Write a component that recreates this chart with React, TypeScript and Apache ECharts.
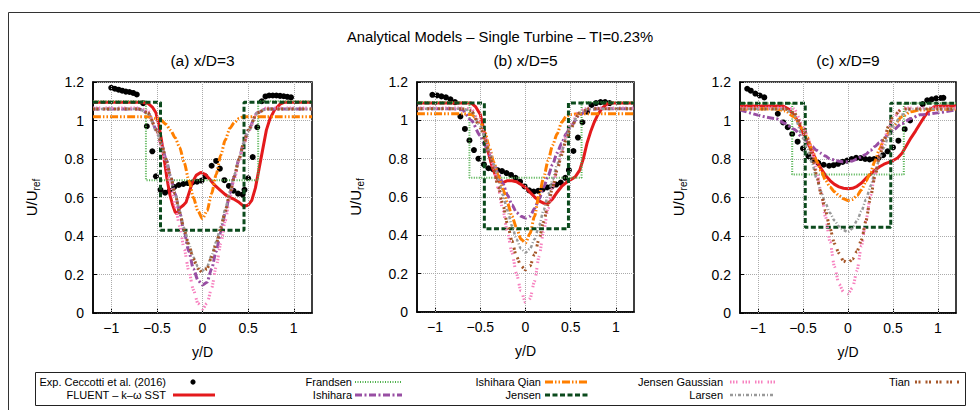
import React, { useEffect, useRef } from 'react';
import * as echarts from 'echarts';

const FONT = "'Liberation Sans', Arial, Helvetica, sans-serif";

// common y/D abscissae for the smooth analytical model curves
const MX = [-1.2, -0.8, -0.7, -0.6, -0.5, -0.45, -0.4, -0.35, -0.3, -0.25, -0.2, -0.15, -0.1, -0.05, 0, 0.05, 0.1, 0.15, 0.2, 0.25, 0.3, 0.35, 0.4, 0.45, 0.5, 0.6, 0.7, 0.8, 1.2];
const X_TICKS = [-1, -0.5, 0, 0.5, 1];

// ---------- (a) x/D = 3 ----------
const expA = [[-1.0, 1.17], [-0.96, 1.165], [-0.92, 1.16], [-0.88, 1.155], [-0.84, 1.15], [-0.8, 1.148], [-0.76, 1.143], [-0.72, 1.135], [-0.65, 1.09], [-0.61, 0.97], [-0.55, 0.84], [-0.51, 0.71], [-0.46, 0.64], [-0.41, 0.625], [-0.36, 0.635], [-0.31, 0.655], [-0.26, 0.665], [-0.21, 0.67], [-0.16, 0.675], [-0.11, 0.678], [-0.06, 0.682], [-0.01, 0.688], [0.03, 0.71], [0.1, 0.765], [0.15, 0.79], [0.19, 0.75], [0.24, 0.69], [0.29, 0.66], [0.34, 0.635], [0.39, 0.62], [0.44, 0.615], [0.46, 0.64], [0.5, 0.7], [0.55, 0.81], [0.6, 0.965], [0.65, 1.1], [0.69, 1.125], [0.73, 1.13], [0.77, 1.13], [0.81, 1.13], [0.85, 1.128], [0.89, 1.126], [0.93, 1.123], [0.97, 1.12]];
const fluentA = [[-1.2, 1.095], [-0.68, 1.095], [-0.6, 1.09], [-0.55, 1.07], [-0.51, 1.04], [-0.48, 0.98], [-0.45, 0.9], [-0.42, 0.8], [-0.39, 0.7], [-0.36, 0.62], [-0.33, 0.565], [-0.3, 0.525], [-0.28, 0.515], [-0.25, 0.545], [-0.21, 0.56], [-0.18, 0.575], [-0.15, 0.62], [-0.11, 0.68], [-0.07, 0.715], [-0.02, 0.73], [0.03, 0.72], [0.08, 0.695], [0.13, 0.665], [0.19, 0.64], [0.25, 0.615], [0.3, 0.6], [0.35, 0.59], [0.4, 0.575], [0.45, 0.555], [0.5, 0.56], [0.54, 0.585], [0.58, 0.65], [0.62, 0.75], [0.66, 0.85], [0.7, 0.95], [0.74, 1.01], [0.79, 1.055], [0.85, 1.085], [0.9, 1.095], [1.2, 1.095]];
const frandsenA = [[-1.2, 1.1], [-0.62, 1.1], [-0.62, 0.69], [0.61, 0.69], [0.61, 1.1], [1.2, 1.1]];
const jensenA = [[-1.2, 1.095], [-0.46, 1.095], [-0.46, 0.43], [0.455, 0.43], [0.455, 1.095], [1.2, 1.095]];
const ishiharaA = [1.06, 1.06, 1.06, 1.04, 0.95, 0.88, 0.8, 0.71, 0.62, 0.52, 0.42, 0.32, 0.23, 0.17, 0.145, 0.16, 0.23, 0.32, 0.42, 0.52, 0.62, 0.71, 0.8, 0.88, 0.95, 1.04, 1.06, 1.06, 1.06];
const qianA = [1.02, 1.02, 1.02, 1.02, 1.01, 1.0, 0.98, 0.95, 0.91, 0.86, 0.78, 0.69, 0.6, 0.53, 0.49, 0.53, 0.62, 0.72, 0.82, 0.9, 0.96, 0.99, 1.01, 1.02, 1.02, 1.02, 1.02, 1.02, 1.02];
const gaussA = [1.065, 1.065, 1.065, 1.05, 0.94, 0.86, 0.77, 0.67, 0.56, 0.45, 0.33, 0.22, 0.12, 0.05, 0.02, 0.05, 0.13, 0.24, 0.36, 0.48, 0.6, 0.7, 0.79, 0.87, 0.94, 1.04, 1.065, 1.065, 1.065];
const larsenA = [1.06, 1.06, 1.06, 1.04, 0.94, 0.87, 0.79, 0.71, 0.62, 0.53, 0.44, 0.36, 0.29, 0.24, 0.22, 0.24, 0.3, 0.37, 0.45, 0.54, 0.63, 0.72, 0.8, 0.88, 0.94, 1.04, 1.06, 1.06, 1.06];
const tianA = [1.06, 1.06, 1.06, 1.04, 0.95, 0.88, 0.8, 0.71, 0.62, 0.52, 0.43, 0.35, 0.28, 0.23, 0.21, 0.23, 0.29, 0.36, 0.44, 0.53, 0.62, 0.71, 0.8, 0.88, 0.95, 1.04, 1.06, 1.06, 1.06];

// ---------- (b) x/D = 5 ----------
const expB = [[-1.03, 1.133], [-0.98, 1.13], [-0.93, 1.125], [-0.88, 1.12], [-0.83, 1.11], [-0.78, 1.095], [-0.72, 1.02], [-0.67, 0.955], [-0.62, 0.895], [-0.57, 0.845], [-0.52, 0.8], [-0.46, 0.77], [-0.41, 0.75], [-0.36, 0.745], [-0.31, 0.74], [-0.26, 0.735], [-0.21, 0.725], [-0.16, 0.715], [-0.11, 0.7], [-0.06, 0.68], [-0.01, 0.655], [0.04, 0.635], [0.09, 0.628], [0.14, 0.632], [0.19, 0.64], [0.24, 0.65], [0.29, 0.655], [0.34, 0.665], [0.39, 0.675], [0.44, 0.7], [0.48, 0.74], [0.53, 0.84], [0.58, 0.91], [0.63, 0.99], [0.68, 1.045], [0.73, 1.08], [0.78, 1.09], [0.83, 1.095], [0.88, 1.095], [0.93, 1.09]];
const fluentB = [[-1.2, 1.09], [-0.6, 1.09], [-0.55, 1.07], [-0.5, 1.03], [-0.47, 0.97], [-0.44, 0.9], [-0.41, 0.83], [-0.37, 0.76], [-0.33, 0.71], [-0.29, 0.68], [-0.25, 0.675], [-0.2, 0.685], [-0.15, 0.685], [-0.1, 0.68], [-0.05, 0.665], [0, 0.65], [0.05, 0.625], [0.1, 0.6], [0.15, 0.58], [0.2, 0.568], [0.25, 0.567], [0.3, 0.59], [0.35, 0.625], [0.4, 0.655], [0.45, 0.675], [0.5, 0.69], [0.55, 0.705], [0.6, 0.74], [0.64, 0.8], [0.68, 0.88], [0.72, 0.94], [0.76, 0.99], [0.8, 1.03], [0.85, 1.065], [0.9, 1.085], [0.95, 1.09], [1.2, 1.09]];
const frandsenB = [[-1.2, 1.095], [-0.62, 1.095], [-0.62, 0.7], [0.62, 0.7], [0.62, 1.095], [1.2, 1.095]];
const jensenB = [[-1.2, 1.09], [-0.455, 1.09], [-0.455, 0.435], [0.475, 0.435], [0.475, 1.09], [1.2, 1.09]];
const ishiharaB = [1.06, 1.06, 1.055, 1.0, 0.92, 0.87, 0.82, 0.77, 0.72, 0.67, 0.61, 0.56, 0.52, 0.5, 0.49, 0.5, 0.54, 0.59, 0.65, 0.71, 0.77, 0.83, 0.88, 0.93, 0.97, 1.03, 1.055, 1.06, 1.06];
const qianB = [1.035, 1.035, 1.035, 1.03, 0.99, 0.94, 0.86, 0.78, 0.71, 0.64, 0.57, 0.5, 0.44, 0.38, 0.36, 0.41, 0.5, 0.61, 0.7, 0.79, 0.87, 0.93, 0.99, 1.02, 1.03, 1.035, 1.035, 1.035, 1.035];
const gaussB = [1.065, 1.065, 1.065, 1.06, 0.98, 0.92, 0.84, 0.75, 0.64, 0.53, 0.42, 0.31, 0.2, 0.11, 0.05, 0.07, 0.16, 0.29, 0.42, 0.54, 0.65, 0.75, 0.84, 0.92, 0.98, 1.05, 1.065, 1.065, 1.065];
const larsenB = [1.06, 1.06, 1.06, 1.05, 0.97, 0.91, 0.84, 0.77, 0.69, 0.61, 0.53, 0.45, 0.38, 0.33, 0.31, 0.33, 0.38, 0.45, 0.53, 0.61, 0.69, 0.77, 0.84, 0.91, 0.97, 1.04, 1.06, 1.06, 1.06];
const tianB = [1.06, 1.06, 1.06, 1.05, 0.96, 0.9, 0.82, 0.74, 0.65, 0.56, 0.46, 0.37, 0.29, 0.24, 0.22, 0.24, 0.3, 0.38, 0.47, 0.56, 0.65, 0.74, 0.82, 0.9, 0.96, 1.04, 1.06, 1.06, 1.06];

// ---------- (c) x/D = 9 ----------
const expC = [[-1.12, 1.165], [-1.08, 1.155], [-1.03, 1.14], [-0.98, 1.13], [-0.93, 1.12], [-0.78, 1.035], [-0.72, 0.99], [-0.67, 0.965], [-0.62, 0.93], [-0.56, 0.89], [-0.5, 0.855], [-0.44, 0.815], [-0.39, 0.795], [-0.33, 0.78], [-0.27, 0.77], [-0.21, 0.765], [-0.16, 0.768], [-0.11, 0.775], [-0.06, 0.785], [-0.01, 0.792], [0.04, 0.8], [0.09, 0.806], [0.14, 0.805], [0.19, 0.8], [0.24, 0.798], [0.29, 0.8], [0.34, 0.806], [0.39, 0.82], [0.44, 0.84], [0.5, 0.86], [0.56, 0.895], [0.63, 0.955], [0.69, 1.0], [0.83, 1.085], [0.88, 1.105], [0.93, 1.11], [0.98, 1.115], [1.03, 1.117], [1.06, 1.118]];
const fluentC = [[-1.2, 1.075], [-0.72, 1.075], [-0.66, 1.06], [-0.6, 1.03], [-0.55, 0.99], [-0.5, 0.935], [-0.45, 0.885], [-0.4, 0.84], [-0.35, 0.79], [-0.3, 0.75], [-0.25, 0.715], [-0.2, 0.688], [-0.15, 0.668], [-0.1, 0.655], [-0.05, 0.648], [0, 0.645], [0.05, 0.648], [0.1, 0.658], [0.15, 0.675], [0.2, 0.7], [0.25, 0.72], [0.3, 0.742], [0.35, 0.76], [0.4, 0.773], [0.45, 0.782], [0.5, 0.792], [0.55, 0.805], [0.6, 0.83], [0.65, 0.87], [0.7, 0.91], [0.75, 0.945], [0.8, 0.983], [0.85, 1.02], [0.9, 1.05], [0.95, 1.07], [1.0, 1.075], [1.2, 1.075]];
const frandsenC = [[-1.2, 1.09], [-0.62, 1.09], [-0.62, 0.72], [0.62, 0.72], [0.62, 1.09], [1.2, 1.09]];
const jensenC = [[-1.2, 1.09], [-0.475, 1.09], [-0.475, 0.445], [0.475, 0.445], [0.475, 1.09], [1.2, 1.09]];
const ishiharaC = [1.055, 1.01, 0.985, 0.955, 0.91, 0.89, 0.865, 0.845, 0.83, 0.815, 0.8, 0.795, 0.788, 0.785, 0.786, 0.79, 0.8, 0.812, 0.825, 0.845, 0.865, 0.885, 0.905, 0.93, 0.95, 0.985, 1.01, 1.03, 1.055];
const qianC = [1.06, 1.06, 1.05, 1.02, 0.955, 0.91, 0.85, 0.79, 0.74, 0.69, 0.655, 0.63, 0.61, 0.593, 0.585, 0.59, 0.61, 0.64, 0.685, 0.73, 0.79, 0.85, 0.9, 0.935, 0.97, 1.02, 1.045, 1.055, 1.06];
const gaussC = [1.065, 1.065, 1.065, 1.06, 0.97, 0.92, 0.84, 0.74, 0.63, 0.5, 0.37, 0.24, 0.15, 0.11, 0.1, 0.13, 0.22, 0.35, 0.48, 0.61, 0.72, 0.82, 0.9, 0.96, 1.01, 1.065, 1.065, 1.065, 1.065];
const larsenC = [1.06, 1.06, 1.06, 1.03, 0.91, 0.85, 0.78, 0.7, 0.63, 0.57, 0.52, 0.48, 0.45, 0.43, 0.42, 0.44, 0.48, 0.53, 0.59, 0.66, 0.73, 0.8, 0.86, 0.92, 0.97, 1.03, 1.06, 1.06, 1.06];
const tianC = [1.06, 1.06, 1.06, 1.04, 0.96, 0.9, 0.82, 0.72, 0.62, 0.53, 0.44, 0.36, 0.31, 0.27, 0.26, 0.28, 0.32, 0.38, 0.48, 0.6, 0.71, 0.81, 0.9, 0.97, 1.02, 1.06, 1.06, 1.06, 1.06];

const PANEL_TITLES = ['(a) x/D=3', '(b) x/D=5', '(c) x/D=9'];
const MAIN_TITLE = 'Analytical Models \u2013 Single Turbine \u2013 TI=0.23%';

const STY: Record<string, { name: string; color: string; width: number; dash: number[] | 'solid' }> = {
  fluent: { name: 'FLUENT \u2013 k\u2013\u03c9 SST', color: '#e41a1c', width: 3, dash: 'solid' },
  frandsen: { name: 'Frandsen', color: '#4daf4a', width: 2, dash: [1, 1.5] },
  ishihara: { name: 'Ishihara', color: '#984ea3', width: 3, dash: [7, 2.5, 2, 2.5] },
  qian: { name: 'Ishihara Qian', color: '#ff7f00', width: 3, dash: [8, 2, 1.5, 2, 1.5, 2] },
  jensen: { name: 'Jensen', color: '#0b4a1c', width: 3, dash: [5, 2.5] },
  gauss: { name: 'Jensen Gaussian', color: '#f781bf', width: 3, dash: [1.5, 1.5, 1.5, 1.5, 1.5, 5] },
  larsen: { name: 'Larsen', color: '#999999', width: 2.5, dash: [3, 2, 1, 2] },
  tian: { name: 'Tian', color: '#a65628', width: 3, dash: [2, 1.5, 2, 5] },
};

const PANELS = [
  { exp: expA, fluent: fluentA, frandsen: frandsenA, jensen: jensenA, ishihara: ishiharaA, qian: qianA, gauss: gaussA, larsen: larsenA, tian: tianA },
  { exp: expB, fluent: fluentB, frandsen: frandsenB, jensen: jensenB, ishihara: ishiharaB, qian: qianB, gauss: gaussB, larsen: larsenB, tian: tianB },
  { exp: expC, fluent: fluentC, frandsen: frandsenC, jensen: jensenC, ishihara: ishiharaC, qian: qianC, gauss: gaussC, larsen: larsenC, tian: tianC },
];

const GRIDS = [
  { left: 93, top: 82, width: 219, height: 231 },
  { left: 417, top: 82, width: 217, height: 230 },
  { left: 740, top: 82, width: 216, height: 231 },
];

const GRID_LINE = { color: '#aaaaaa', width: 1, type: [1, 1] };

const onMX = (vals: number[]) => MX.map((x, i) => [x, vals[i]]);
const fmtX = (v: number) => (v < 0 ? '\u2212' : '') + String(Math.abs(+v.toFixed(2)));
const fmtY = (v: number) => String(+v.toFixed(2));

function lineSeries(key: string, data: number[][], idx: number, smooth: boolean) {
  const s = STY[key];
  return {
    type: 'line',
    name: s.name,
    xAxisIndex: idx,
    yAxisIndex: idx,
    data,
    symbol: 'none',
    showSymbol: false,
    smooth: smooth ? 0.25 : false,
    smoothMonotone: smooth ? 'x' : undefined,
    lineStyle: { color: s.color, width: s.width, type: s.dash, cap: 'butt' },
    itemStyle: { color: s.color },
    silent: true,
  };
}

function legendItem(label: string, xEnd: number, y: number, sample: any) {
  return [
    {
      type: 'text',
      x: xEnd,
      y,
      style: { text: label, fontSize: 11, fontFamily: FONT, fill: '#000', align: 'right', textAlign: 'right', verticalAlign: 'middle', textVerticalAlign: 'middle' },
    },
    sample,
  ];
}

function legendLine(key: string, x1: number, x2: number, y: number) {
  const s = STY[key];
  return {
    type: 'line',
    shape: { x1, y1: y, x2, y2: y },
    style: { stroke: s.color, lineWidth: s.width, lineDash: s.dash === 'solid' ? null : s.dash },
  };
}

export default function App() {
  const ref = useRef<HTMLDivElement>(null);
  useEffect(() => {
    if (!ref.current) return;
    const chart = echarts.init(ref.current, null, { renderer: 'svg' });
    const xAxis: any[] = [];
    const yAxis: any[] = [];
    const series: any[] = [];
    PANELS.forEach((p, i) => {
      xAxis.push({
        type: 'value',
        gridIndex: i,
        min: -1.2,
        max: 1.2,
        name: 'y/D',
        nameLocation: 'middle',
        nameGap: 32,
        nameTextStyle: { fontSize: 14, fontFamily: FONT, color: '#000' },
        axisLine: { show: true, onZero: false, lineStyle: { color: '#000', width: 1.5 } },
        axisTick: { show: true, inside: true, length: 4, customValues: X_TICKS, lineStyle: { color: '#000' } },
        axisLabel: { customValues: X_TICKS, formatter: fmtX, fontSize: 14, fontFamily: FONT, color: '#000', margin: 8 },
        splitLine: { show: false },
      });
      yAxis.push({
        type: 'value',
        gridIndex: i,
        min: 0,
        max: 1.2,
        interval: 0.2,
        name: '{a|U/U}{b|ref}',
        nameLocation: 'middle',
        nameGap: 52,
        nameTextStyle: {
          rich: {
            a: { fontSize: 15, fontFamily: FONT, color: '#000', lineHeight: 17, verticalAlign: 'top' },
            b: { fontSize: 10, fontFamily: FONT, color: '#000', lineHeight: 12, padding: [8, 0, 0, 0], verticalAlign: 'bottom' },
          },
        },
        axisLine: { show: true, onZero: false, lineStyle: { color: '#000', width: 1.5 } },
        axisTick: { show: true, inside: true, length: 4, lineStyle: { color: '#000' } },
        axisLabel: { formatter: fmtY, fontSize: 14, fontFamily: FONT, color: '#000', margin: 9 },
        splitLine: { show: true, lineStyle: GRID_LINE },
      });
      // vertical grid lines at the x tick values, placed through the axis scale
      series.push({
        type: 'line',
        name: 'grid',
        xAxisIndex: i,
        yAxisIndex: i,
        data: [],
        silent: true,
        z: 1,
        markLine: {
          silent: true,
          symbol: ['none', 'none'],
          label: { show: false },
          lineStyle: GRID_LINE,
          data: X_TICKS.map((v) => ({ xAxis: v })),
        },
      });
      series.push({
        type: 'scatter',
        name: 'Exp. Ceccotti et al. (2016)',
        xAxisIndex: i,
        yAxisIndex: i,
        data: p.exp,
        symbol: 'circle',
        symbolSize: 6,
        itemStyle: { color: '#000', opacity: 1 },
        silent: true,
      });
      series.push(lineSeries('fluent', p.fluent, i, false));
      series.push(lineSeries('frandsen', p.frandsen, i, false));
      series.push(lineSeries('ishihara', onMX(p.ishihara), i, true));
      series.push(lineSeries('qian', onMX(p.qian), i, true));
      series.push(lineSeries('jensen', p.jensen, i, false));
      series.push(lineSeries('gauss', onMX(p.gauss), i, true));
      series.push(lineSeries('larsen', onMX(p.larsen), i, true));
      series.push(lineSeries('tian', onMX(p.tian), i, true));
    });

    const titleCenters = [202.5, 525.5, 848];
    const graphic: any[] = [
      { type: 'rect', shape: { x: 8.5, y: 12.5, width: 1200, height: 600 }, style: { fill: 'none', stroke: '#333', lineWidth: 1 }, silent: true },
      {
        type: 'text', x: 500, y: 37,
        style: { text: MAIN_TITLE, fontSize: 14.8, fontFamily: FONT, fill: '#000', align: 'center', textAlign: 'center', verticalAlign: 'middle', textVerticalAlign: 'middle' },
      },
      ...PANEL_TITLES.map((t, i) => ({
        type: 'text', x: titleCenters[i], y: 60,
        style: { text: t, fontSize: 15.5, fontFamily: FONT, fill: '#000', align: 'center', textAlign: 'center', verticalAlign: 'middle', textVerticalAlign: 'middle' },
      })),
      { type: 'rect', shape: { x: 35.5, y: 372.5, width: 930, height: 33 }, style: { fill: '#fff', stroke: '#222', lineWidth: 1 }, silent: true },
      ...legendItem('Exp. Ceccotti et al. (2016)', 166, 382, { type: 'circle', shape: { cx: 193, cy: 382, r: 2.6 }, style: { fill: '#000' } }),
      ...legendItem(STY.fluent.name, 166, 395, legendLine('fluent', 173, 215, 395)),
      ...legendItem(STY.frandsen.name, 352, 382, legendLine('frandsen', 355, 402, 382)),
      ...legendItem(STY.ishihara.name, 352, 395, legendLine('ishihara', 355, 402, 395)),
      ...legendItem(STY.qian.name, 541, 382, legendLine('qian', 545, 588, 382)),
      ...legendItem(STY.jensen.name, 541, 395, legendLine('jensen', 545, 588, 395)),
      ...legendItem(STY.gauss.name, 723, 382, legendLine('gauss', 730, 775, 382)),
      ...legendItem(STY.larsen.name, 723, 395, legendLine('larsen', 730, 775, 395)),
      ...legendItem(STY.tian.name, 910, 382, legendLine('tian', 915, 960, 382)),
    ];

    chart.setOption({
      animation: false,
      backgroundColor: '#fff',
      grid: GRIDS.map((g) => ({ ...g, show: true, borderColor: '#000', borderWidth: 1.5, backgroundColor: 'transparent', containLabel: false })),
      xAxis,
      yAxis,
      series,
      graphic,
    });
    return () => chart.dispose();
  }, []);
  return <div ref={ref} style={{ position: 'absolute', left: 0, top: 0, width: 980, height: 410 }} />;
}
